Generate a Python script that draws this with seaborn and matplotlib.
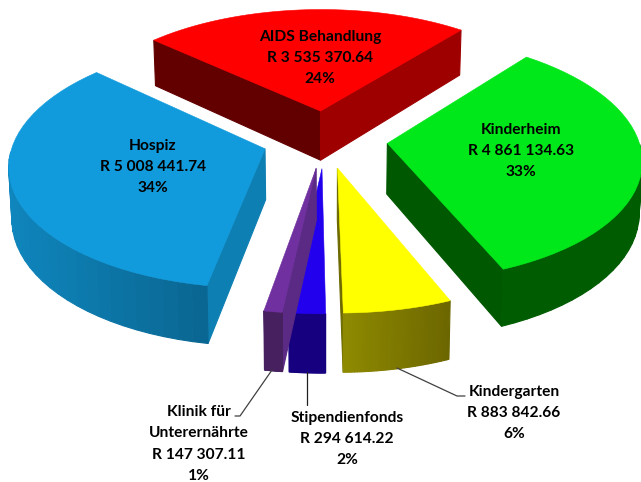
import numpy as np
import seaborn as sns
import matplotlib.pyplot as plt

names = ['Kinderheim', 'Kindergarten', 'Stipendienfonds', 'Klinik für\nUnterernährte', 'Hospiz', 'AIDS Behandlung']
rand = [4861134.63, 883842.66, 294614.22, 147307.11, 5008441.74, 3535370.64]
explode = [0.25, 0.24, 0.24, 0.24, 0.25, 0.24]
top_cols = ['#00E81A', '#FFFF00', '#2200EE', '#70309F', '#129BDC', '#FF0000']
# colours of the outer edge, left end then right end
rim_cols = [('#005C00', '#005C00'), ('#8E8A00', '#6C6600'), ('#170080', '#170080'),
            ('#46205F', '#46205F'), ('#0F86BD', '#0A6590'), ('#9E0000', '#9E0000')]
# cut faces at the first and at the last edge of each slice
wall0_cols = ['#005800', '#6E6A00', '#170080', '#5A2A85', '#0E7FB3', '#620000']
wall1_cols = ['#005800', '#6E6A00', '#170080', '#5A2A85', '#0E7FB3', '#9E0000']

start_angle = 38.8
cx, cy = 325, 139
scale_x, scale_y = 251, 120
persp = 0.12
depth = 50.5

sns.set_theme(style='white')
plt.rcParams['font.family'] = ['Lato', 'DejaVu Sans']


def project(px, py):
    s = 1 / (1 + persp * py)
    return cx + scale_x * px * s, cy - scale_y * py * s, s


def drop(x, y, s):
    return cx + (x - cx) * 0.99, y + depth * s


def face(xa, ya, sa, col):
    xb, yb = drop(xa, ya, sa)
    ax.fill(np.r_[xa, xb[::-1]], np.r_[ya, yb[::-1]], color=col, lw=0.8)


fig, ax = plt.subplots(figsize=(6.41, 4.82), dpi=100)
fig.subplots_adjust(0, 0, 1, 1)
ax.set_xlim(0, 641)
ax.set_ylim(482, 0)
ax.axis('off')

shares = np.array(rand) / sum(rand)
ang = start_angle
for i, share in enumerate(shares):
    a0, a1 = ang, ang + share * 360
    ang = a1
    mid = np.radians((a0 + a1) / 2)
    ex, ey = explode[i] * np.sin(mid), explode[i] * np.cos(mid)
    th = np.radians(np.linspace(a0, a1, 40))
    apex_x, apex_y, apex_s = project(ex, ey)
    x, y, s = project(ex + np.sin(th), ey + np.cos(th))

    # only the cut faces that look towards the viewer
    if np.cos(np.radians(a0 - 90)) < 0:
        face(np.array([apex_x, x[0]]), np.array([apex_y, y[0]]), np.array([apex_s, s[0]]), wall0_cols[i])
    if np.cos(np.radians(a1 + 90)) < 0:
        face(np.array([apex_x, x[-1]]), np.array([apex_y, y[-1]]), np.array([apex_s, s[-1]]), wall1_cols[i])

    # rim, split up so the shading can run across it
    c0 = np.array(sns.color_palette(rim_cols[i], 2))
    lo, hi = x.min(), x.max()
    for j in range(len(x) - 1):
        if np.cos((th[j] + th[j + 1]) / 2) > 0:
            continue
        t = ((x[j] + x[j + 1]) / 2 - lo) / (hi - lo)
        face(x[j:j + 2], y[j:j + 2], s[j:j + 2], c0[0] * (1 - t) + c0[1] * t)

    ax.fill(np.r_[apex_x, x], np.r_[apex_y, y], color=top_cols[i], lw=0.4)

# leader lines
ax.plot([272, 240, 235], [370, 416, 416], color='#404040', lw=0.9)
ax.plot([307, 307], [372, 405], color='#202020', lw=0.9)
ax.plot([397, 457, 465], [368, 396, 396], color='#404040', lw=0.9)

label_pos = [(521, 151), (514, 413), (347, 439), (199, 444), (153, 167), (320, 58)]
for i, (lx, ly) in enumerate(label_pos):
    txt = f"{names[i]}\nR {rand[i]:,.2f}\n{shares[i] * 100:.0f}%".replace(',', ' ')
    ax.text(lx, ly, txt, ha='center', va='center', fontsize=11.2, fontweight='bold',
            color='black', linespacing=1.68)

fig.savefig('out.png', dpi=100)
